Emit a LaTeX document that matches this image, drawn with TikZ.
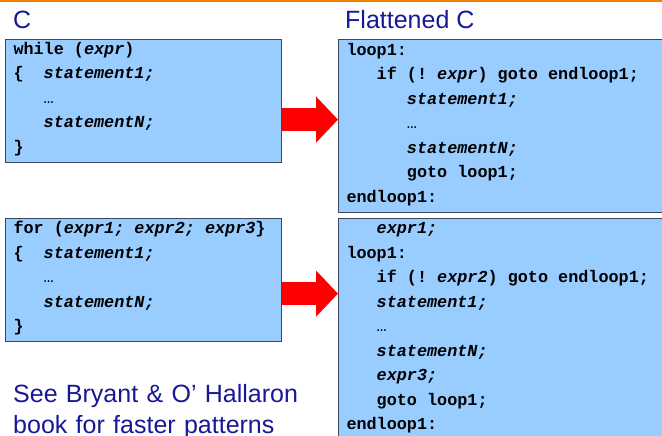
\documentclass[tikz,border=0pt]{standalone}
\usepackage{fontspec}
\setmainfont{Liberation Sans}
\setmonofont{Liberation Mono}
\usetikzlibrary{calc,arrows.meta}

\definecolor{titleblue}{RGB}{24,24,150}
\definecolor{boxblue}{RGB}{153,204,255}
\definecolor{boxline}{RGB}{60,72,96}
\definecolor{barorange}{RGB}{240,128,0}

\newcommand{\codefont}{\fontsize{16.8}{24.5}\selectfont\ttfamily\bfseries
  \spaceskip=0.6em\relax}
\newcommand{\ind}[1][]{\makebox[1.8em][l]{#1}}
\newcommand{\ii}[1]{\textit{#1}}
\newcommand{\skipdots}{{\mdseries…}}

\tikzset{
  codebox/.style={draw=boxline, line width=1pt, fill=boxblue, anchor=north west,
    inner xsep=8pt, inner ysep=0pt, align=flush left, font=\codefont},
  heading/.style={anchor=base west, inner sep=0pt, text=titleblue,
    font=\fontsize{25}{31}\selectfont},
  bigarrow/.style={red, line width=23pt, -{Triangle[length=22pt,width=45pt]}}
}

\begin{document}
\begin{tikzpicture}[x=1pt,y=-1pt]
            \useasboundingbox (0,0) rectangle (662,436);
            \clip (0,0) rectangle (662,436);
            \fill[barorange] (0,0) rectangle (662,2.5);

            \node[heading] (ctitle) at (13,29) {C};
            \node[heading] (flattitle) at (345,29) {Flattened C};

            \node[codebox, text width=260pt, text height=15pt, text depth=108pt] (while) at (5,39)
                {while (\ii{expr})\\
                \ind[\{]\ii{statement1;}\\
                \ind\skipdots\\
                \ind\ii{statementN;}\\
                \}};

            \node[codebox, text width=318pt, text height=16pt, text depth=157pt] (flatwhile) at (338,39)
                {loop1:\\
                \ind if (! \ii{expr}) goto endloop1;\\
                \ind\ind\ii{statement1;}\\
                \ind\ind\skipdots\\
                \ind\ind\ii{statementN;}\\
                \ind\ind goto loop1;\\
                endloop1:};

            \node[codebox, text width=260pt, text height=15pt, text depth=108pt] (forloop) at (5,218)
                {for (\ii{expr1; expr2; expr3}\}\\
                \ind[\{]\ii{statement1;}\\
                \ind\skipdots\\
                \ind\ii{statementN;}\\
                \}};

            \node[codebox, text width=318pt, text height=15pt, text depth=250pt] (flatfor) at (338,218)
                {\ind\ii{expr1;}\\
                loop1:\\
                \ind if (! \ii{expr2}) goto endloop1;\\
                \ind\ii{statement1;}\\
                \ind\skipdots\\
                \ind\ii{statementN;}\\
                \ind\ii{expr3;}\\
                \ind goto loop1;\\
                endloop1:};

            \node[heading, text width=320pt, align=left] (note) at (13,402)
                {See Bryant \& O’ Hallaron\\book for faster patterns};

            \coordinate (A) at ($(while.north east)!.65!(while.south east)$);
            \draw[bigarrow] (A) -- (A -| flatwhile.west);

            \coordinate (B) at ($(forloop.north east)!.61!(forloop.south east)$);
            \draw[bigarrow] (B) -- (B -| flatfor.west);
        \end{tikzpicture}
\end{document}
